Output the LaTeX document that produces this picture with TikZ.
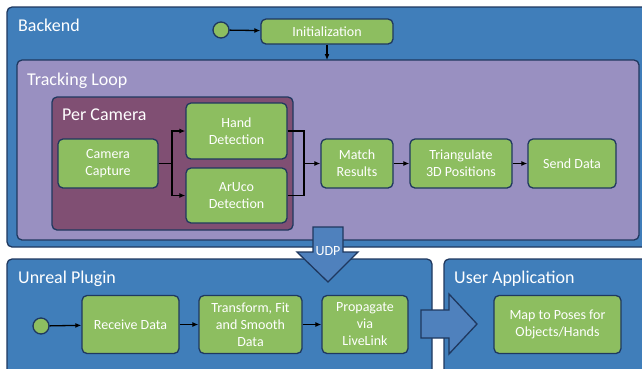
\documentclass[tikz,border=0pt]{standalone}
\usepackage{fontspec}
\setmainfont{Carlito}
\usepackage{tikz}
\usetikzlibrary{arrows.meta}
\usetikzlibrary{calc}

\definecolor{backblue}{RGB}{64,126,186}
\definecolor{arrowblue}{RGB}{79,129,189}
\definecolor{loopviolet}{RGB}{153,144,193}
\definecolor{camplum}{RGB}{128,79,115}
\definecolor{stepgreen}{RGB}{141,190,96}
\definecolor{edgenavy}{RGB}{31,56,95}

\begin{document}
\begin{tikzpicture}[x=1pt,y=-1pt,
    frame/.style={draw=edgenavy,line width=1.3pt,rounded corners=5pt},
    title/.style={anchor=base west,inner sep=0pt,text=white,font=\fontsize{18}{21}\selectfont},
    stepbox/.style={draw=edgenavy,line width=1.3pt,rounded corners=5pt,fill=stepgreen,
        text=white,align=center,inner sep=1pt,font=\fontsize{14}{17}\selectfont},
    startdot/.style={circle,draw=edgenavy,line width=1.3pt,fill=stepgreen,minimum size=16pt,inner sep=0pt},
    flow/.style={line width=1.3pt,-{Latex[length=6pt,width=5pt]}},
    fat/.style={draw=edgenavy,line width=1.3pt,fill=arrowblue,line join=miter}]
    \useasboundingbox (0,0) rectangle (642,368);

    % containers
    \draw[frame,fill=backblue] (7,7) rectangle (648,247);
    \draw[frame,fill=loopviolet] (17,60) rectangle (639,240);
    \draw[frame,fill=camplum] (52,97) rectangle (293,230);
    \draw[frame,fill=backblue] (7,259) rectangle (432,380);
    \draw[frame,fill=backblue] (444,259) rectangle (652,380);
    \coordinate (looptop) at (327,60);

    \node[title] (backend) at (18,31) {Backend};
    \node[title] (trackloop) at (27,85) {Tracking Loop};
    \node[title] (percam) at (62,120) {Per Camera};
    \node[title] (unreal) at (18,283) {Unreal Plugin};
    \node[title] (userapp) at (454,283) {User Application};

    % backend steps
    \node[startdot] (start) at (221,30) {};
    \node[stepbox,minimum width=132pt,minimum height=25pt] (init) at (327,31.5) {Initialization};
    \node[stepbox,minimum width=100pt,minimum height=49pt] (cam) at (108,163.5) {Camera\\Capture};
    \node[stepbox,minimum width=101pt,minimum height=56pt] (hand) at (236.5,131) {Hand\\Detection};
    \node[stepbox,minimum width=101pt,minimum height=55pt] (aruco) at (236.5,195.5) {ArUco\\Detection};
    \node[stepbox,minimum width=72pt,minimum height=49pt] (match) at (357,163.5) {Match\\Results};
    \node[stepbox,minimum width=102pt,minimum height=49pt] (tri) at (461,163.5) {Triangulate\\3D Positions};
    \node[stepbox,minimum width=88pt,minimum height=49pt] (send) at (572,163.5) {Send Data};
    \coordinate (split) at (172,163.5);
    \coordinate (merge) at (304,163.5);

    \draw[flow] (start) -- (init);
    \draw[flow] (init.south) -- (looptop);
    \draw[line width=1.3pt] (cam.east) -- (split);
    \draw[flow] (split) |- (hand.west);
    \draw[flow] (split) |- (aruco.west);
    \draw[line width=1.3pt] (hand.east) -| (merge);
    \draw[line width=1.3pt] (aruco.east) -| (merge);
    \draw[flow] (merge) -- (match.west);
    \draw[flow] (match) -- (tri);
    \draw[flow] (tri) -- (send);

    % plugin steps
    \node[startdot] (start2) at (41,326) {};
    \node[stepbox,minimum width=97pt,minimum height=58pt] (recv) at (130.5,324.5) {Receive Data};
    \node[stepbox,minimum width=103pt,minimum height=58pt] (trans) at (250.5,324.5) {Transform, Fit\\and Smooth\\Data};
    \node[stepbox,minimum width=86pt,minimum height=58pt] (prop) at (365,324.5) {Propagate\\via\\LiveLink};
    \node[stepbox,minimum width=127pt,minimum height=58pt] (map) at (557.5,324.5) {Map to Poses for\\Objects/Hands};

    \draw[flow] (start2) -- (recv);
    \draw[flow] (recv) -- (trans);
    \draw[flow] (trans) -- (prop);

    % block arrows
    \draw[fat] (313,227) -- (343,227) -- (343,252) -- (358,252) -- (328,282)
        -- (297,252) -- (313,252) -- cycle;
    \node[inner sep=0pt,text=white,font=\fontsize{14}{17}\selectfont] (udp) at (328,251) {UDP};
    \draw[fat] (421,310) -- (449,310) -- (449,294) -- (477,324) -- (449,354)
        -- (449,338) -- (421,338) -- cycle;
\end{tikzpicture}
\end{document}
